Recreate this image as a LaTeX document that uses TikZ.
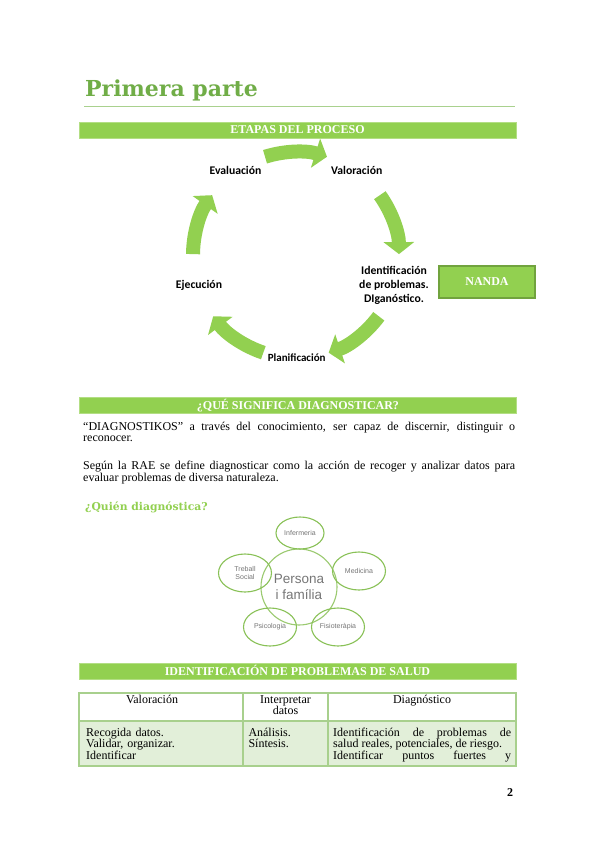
\documentclass[tikz,border=0pt]{standalone}
\usepackage{fontspec}
\setmainfont{Liberation Serif}
\newfontfamily\calibrifont{Carlito}
\newfontfamily\headfont{DejaVu Serif}
\newfontfamily\arialfont{Liberation Sans}
\usetikzlibrary{
  arrows.meta,
  calc,
  shapes.geometric
}
\definecolor{leafgreen}{RGB}{146,208,80}
\definecolor{titlegreen}{RGB}{112,173,71}
\definecolor{rulegreen}{RGB}{169,209,142}
\definecolor{boxedge}{RGB}{113,163,62}
\definecolor{venngreen}{RGB}{137,193,87}
\definecolor{venntext}{RGB}{118,118,118}
\definecolor{rowgreen}{RGB}{226,239,217}
\definecolor{gridgreen}{RGB}{168,208,141}
\newcommand{\tightlines}{\lineskiplimit=-6pt\relax}
\tikzset{
  banner/.style={fill=leafgreen,draw=leafgreen!70!white,line width=0.6pt,
    minimum width=437pt,minimum height=16pt,inner sep=0pt,text=white,
    text height=8pt,text depth=0pt,font=\bfseries\fontsize{12}{14}\selectfont},
  stagelabel/.style={inner sep=0pt,align=center,
    font=\calibrifont\bfseries\fontsize{11.7}{14}\selectfont},
  cyclearrow/.style={leafgreen,line width=14pt,-{Triangle[width=30pt,length=12pt]}},
  nandabox/.style={fill=leafgreen,draw=boxedge,line width=1.4pt,minimum width=96pt,
    minimum height=32pt,text=white,font=\bfseries\fontsize{12}{14}\selectfont},
  bodytext/.style={anchor=base west,inner sep=0pt,text width=432pt,align=justify,
    font=\fontsize{12}{11.6}\selectfont},
  cell/.style={anchor=base west,inner sep=0pt,font=\fontsize{12}{11}\selectfont},
  venn/.style={ellipse,draw=venngreen,line width=1.1pt,minimum width=53pt,
    minimum height=38pt,inner sep=0pt,text=venntext,align=center,
    font=\arialfont\fontsize{7}{8}\selectfont}
}

\begin{document}
\begin{tikzpicture}[x=1pt,y=-1pt]
  \fill[white] (0,0) rectangle (599,848);
  \useasboundingbox (0,0) rectangle (599,848);

  % title
  \node[anchor=base west,inner sep=0pt,text=titlegreen,
    font=\headfont\bfseries\fontsize{22}{26}\selectfont] (title) at (85,97) {Primera parte};
  \draw[rulegreen,line width=1pt] (84,107) -- (515,107);

  % etapas del proceso
  \node[banner] (etapas) at (297.5,130) {ETAPAS DEL PROCESO};
  \coordinate (hub) at (296,255);
  \foreach \m in {-90,-18,54,126,198}
    \draw[cyclearrow] ($(hub)+(\m-17.5:103)$) arc[start angle=\m-17.5,end angle=\m+17.5,radius=103];
  \node[stagelabel] (valoracion) at (356.7,170.7) {Valoración};
  \node[stagelabel] (identificacion) at (394,285.5) {Identificación\\de problemas.\\DIganóstico.};
  \node[stagelabel,font=\calibrifont\bfseries\fontsize{11}{13}\selectfont] (planificacion) at (296.7,357.5) {Planificación};
  \node[stagelabel] (ejecucion) at (199,285.3) {Ejecución};
  \node[stagelabel] (evaluacion) at (235.5,170.7) {Evaluación};
  \node[nandabox] (nanda) at (487,282) {NANDA};

  % que significa diagnosticar
  \node[banner] (significa) at (298,405) {¿QUÉ SIGNIFICA DIAGNOSTICAR?};
  \node[bodytext] (etimologia) at (83,430) {\tightlines “DIAGNOSTIKOS” a través del conocimiento, ser capaz de discernir, distinguir o\linebreak reconocer.};
  \node[bodytext] (rae) at (83,469.5) {\tightlines Según la RAE se define diagnosticar como la acción de recoger y analizar datos para\linebreak evaluar problemas de diversa naturaleza.};
  \node[anchor=base west,inner sep=0pt,text=leafgreen,
    font=\headfont\bfseries\fontsize{10.8}{13}\selectfont] (quien) at (85,510) {¿Quién diagnóstica?};

  % persona i familia
  \node[circle,draw=venngreen!85!white,line width=1.1pt,minimum size=76pt,inner sep=0pt,
    text=venntext,align=center,font=\arialfont\fontsize{13.5}{16}\selectfont] (persona) at (299,587) {Persona\\i família};
  \node[venn,minimum width=48pt,minimum height=32pt] (infermeria) at (300,533) {Infermeria};
  \node[venn] (medicina) at (359,571) {Medicina};
  \node[venn] (fisio) at (338,627) {Fisioteràpia};
  \node[venn] (psico) at (270,627) {Psicologia};
  \node[venn] (treball) at (245,573) {Treball\\Social};

  % identificacion de problemas de salud
  \node[banner] (salud) at (297.5,671) {IDENTIFICACIÓN DE PROBLEMAS DE SALUD};
  \fill[rowgreen] (79,721) rectangle (516,766);
  \draw[gridgreen,line width=1.1pt] (79,693) rectangle (516,766)
    (79,721) -- (516,721) (243,693) -- (243,766) (328,693) -- (328,766);
  \node[cell,anchor=base] (hval) at (152,703) {Valoración};
  \node[cell,anchor=base,text width=80pt,align=center] (hint) at (285.5,703) {Interpretar\\datos};
  \node[cell,anchor=base] (hdiag) at (422,703) {Diagnóstico};
  \node[cell,text width=150pt,align=left] (cval) at (86,736.5) {\tightlines Recogida datos.\\Validar, organizar.\\Identificar};
  \node[cell,text width=75pt,align=left] (cint) at (248.3,736.5) {\tightlines Análisis.\\Síntesis.};
  \node[cell,text width=178pt,align=justify] (cdiag) at (333,736.5) {\tightlines Identificación de problemas de\linebreak salud reales, potenciales, de riesgo.\newline\makebox[178pt][s]{Identificar puntos fuertes y}};

  \node[anchor=base,inner sep=0pt,font=\bfseries\fontsize{12}{14}\selectfont] (pagenum) at (510,796) {2};
\end{tikzpicture}
\end{document}
